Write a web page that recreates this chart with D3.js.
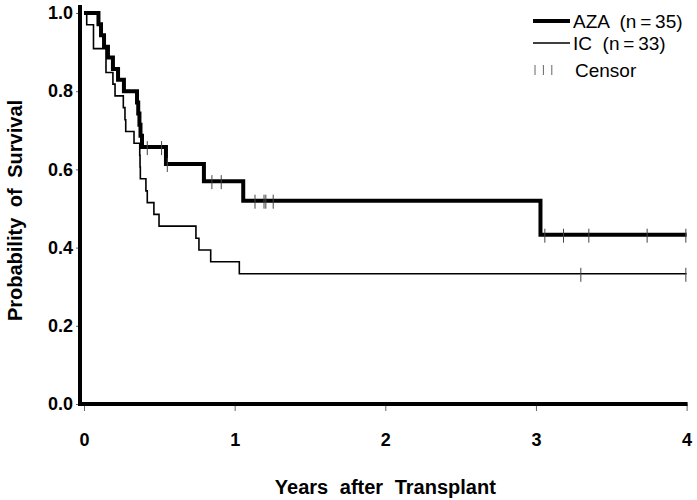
<!DOCTYPE html>
<html>
<head>
<meta charset="utf-8">
<script src="https://cdn.jsdelivr.net/npm/d3@7"></script>
<style>
  body { margin: 0; background: #fff; }
  svg text { font-family: "Liberation Sans", Arial, sans-serif; fill: #000; }
</style>
</head>
<body>
<div id="chart"></div>
<script>
// Kaplan-Meier steps (time in years, survival after the event)
var azaTimes = [0.096, 0.113, 0.133, 0.159, 0.192, 0.226, 0.265, 0.352, 0.360, 0.368, 0.375, 0.385, 0.544, 0.796, 1.057, 3.03];
var azaSurv  = [0.971, 0.943, 0.914, 0.886, 0.857, 0.829, 0.800, 0.771, 0.743, 0.714, 0.686, 0.657, 0.614, 0.570, 0.520, 0.433];
var azaCensor = [0.42, 0.515, 0.553, 0.849, 0.911, 1.135, 1.195, 1.207, 1.256, 3.059, 3.183, 3.351, 3.738, 3.995];

var icTimes = [0.018, 0.063, 0.063, 0.146, 0.146, 0.192, 0.206, 0.261, 0.272, 0.277, 0.332, 0.370, 0.372, 0.374, 0.411, 0.420, 0.464, 0.498, 0.743, 0.763, 0.841, 1.031];
var icSurv  = [0.970, 0.939, 0.909, 0.879, 0.848, 0.818, 0.788, 0.758, 0.727, 0.697, 0.667, 0.636, 0.606, 0.576, 0.545, 0.515, 0.485, 0.455, 0.424, 0.394, 0.364, 0.333];
var icCensor = [3.298, 3.995];

var xTicks = [0, 1, 2, 3, 4];
var yTicks = [0, 0.2, 0.4, 0.6, 0.8, 1.0];
var maxYears = 4;

var svgWidth = 697;
var svgHeight = 500;

var svg = d3.select("#chart")
  .append("svg")
  .attr("width", svgWidth)
  .attr("height", svgHeight);

var x = d3.scaleLinear().domain([0, 4]).range([84, 686.6]);
var y = d3.scaleLinear().domain([0, 1]).range([404, 13]);

var axisX = x(0) - 4;

// step data
function steps(times, surv) {
  var pts = [{t: 0, s: 1}];
  times.forEach(function(t, i) { pts.push({t: t, s: surv[i]}); });
  pts.push({t: maxYears, s: surv[surv.length - 1]});
  return pts;
}
function survAt(times, surv, t) {
  var s = 1;
  times.forEach(function(tt, i) { if (tt <= t) s = surv[i]; });
  return s;
}

var line = d3.line()
  .x(d => x(d.t))
  .y(d => y(d.s))
  .curve(d3.curveStepAfter);

// x axis
var bottomAxis = d3.axisBottom(x)
  .tickValues(xTicks)
  .tickFormat(d3.format("d"))
  .tickSize(7)
  .tickPadding(22);

var gx = svg.append("g")
  .attr("transform", `translate(0, ${y(0)})`)
  .call(bottomAxis);
gx.select(".domain").remove();
gx.selectAll(".tick line").attr("stroke", "#666").attr("stroke-width", 1);
gx.selectAll(".tick text")
  .style("font-size", "18px")
  .style("font-weight", "bold")
  .attr("fill", "#000");

// y axis
var leftAxis = d3.axisLeft(y)
  .tickValues(yTicks)
  .tickFormat(d3.format(".1f"))
  .tickSize(4)
  .tickPadding(3);

var gy = svg.append("g")
  .attr("transform", `translate(${axisX}, 0)`)
  .call(leftAxis);
gy.select(".domain").remove();
gy.selectAll(".tick line").attr("stroke", "#666").attr("stroke-width", 1);
gy.selectAll(".tick text")
  .style("font-size", "18px")
  .style("font-weight", "bold")
  .attr("fill", "#000");

// thick axis lines
svg.append("line")
  .attr("x1", axisX).attr("x2", axisX)
  .attr("y1", y(0) + 2).attr("y2", y(1) - 8)
  .attr("stroke", "#000").attr("stroke-width", 4);
svg.append("line")
  .attr("x1", axisX - 2).attr("x2", x(maxYears) + 1)
  .attr("y1", y(0)).attr("y2", y(0))
  .attr("stroke", "#000").attr("stroke-width", 4);

// curves
svg.append("path")
  .datum(steps(icTimes, icSurv))
  .attr("d", line)
  .attr("fill", "none")
  .attr("stroke", "#000")
  .attr("stroke-width", 1.6);

svg.append("path")
  .datum(steps(azaTimes, azaSurv))
  .attr("d", line)
  .attr("fill", "none")
  .attr("stroke", "#000")
  .attr("stroke-width", 4);

// censor marks
function censorMarks(cens, times, surv) {
  svg.append("g")
    .selectAll("line")
    .data(cens)
    .enter()
    .append("line")
    .attr("x1", d => x(d)).attr("x2", d => x(d))
    .attr("y1", d => y(survAt(times, surv, d)) - 6)
    .attr("y2", d => y(survAt(times, surv, d)) + 8)
    .attr("stroke", "#444")
    .attr("stroke-width", 1);
}
censorMarks(azaCensor, azaTimes, azaSurv);
censorMarks(icCensor, icTimes, icSurv);

// axis titles
svg.append("text")
  .attr("transform", `translate(${(x(0) + x(4)) / 2 + 0}, 494)`)
  .style("text-anchor", "middle")
  .style("font-size", "20px")
  .style("font-weight", "bold")
  .style("word-spacing", "6px")
  .text("Years after Transplant");

svg.append("text")
  .attr("transform", `translate(22, ${y(0.5) + 2}) rotate(-90)`)
  .style("text-anchor", "middle")
  .style("font-size", "20px")
  .style("font-weight", "bold")
  .style("word-spacing", "5px")
  .text("Probability of Survival");

// legend
var legend = svg.append("g");
var legX = 533, legLen = 37, legTextX = 573;
var legRows = [
  {label: "AZA  (n\u2009=\u200935)", w: 4, y: 21},
  {label: "IC  (n\u2009=\u200933)", w: 1.6, y: 43}
];
legRows.forEach(function(r) {
  legend.append("line")
    .attr("x1", legX).attr("x2", legX + legLen)
    .attr("y1", r.y).attr("y2", r.y)
    .attr("stroke", "#000").attr("stroke-width", r.w);
  legend.append("text")
    .attr("x", legTextX).attr("y", r.y + 7)
    .style("font-size", "19px")
    .style("white-space", "pre")
    .text(r.label);
});
[0, 1, 2].forEach(function(i) {
  legend.append("line")
    .attr("x1", 535 + i * 8.4).attr("x2", 535 + i * 8.4)
    .attr("y1", 65).attr("y2", 75)
    .attr("stroke", "#666").attr("stroke-width", 1);
});
legend.append("text")
  .attr("x", legTextX + 2).attr("y", 77)
  .style("font-size", "19px")
  .text("Censor");
</script>
</body>
</html>
